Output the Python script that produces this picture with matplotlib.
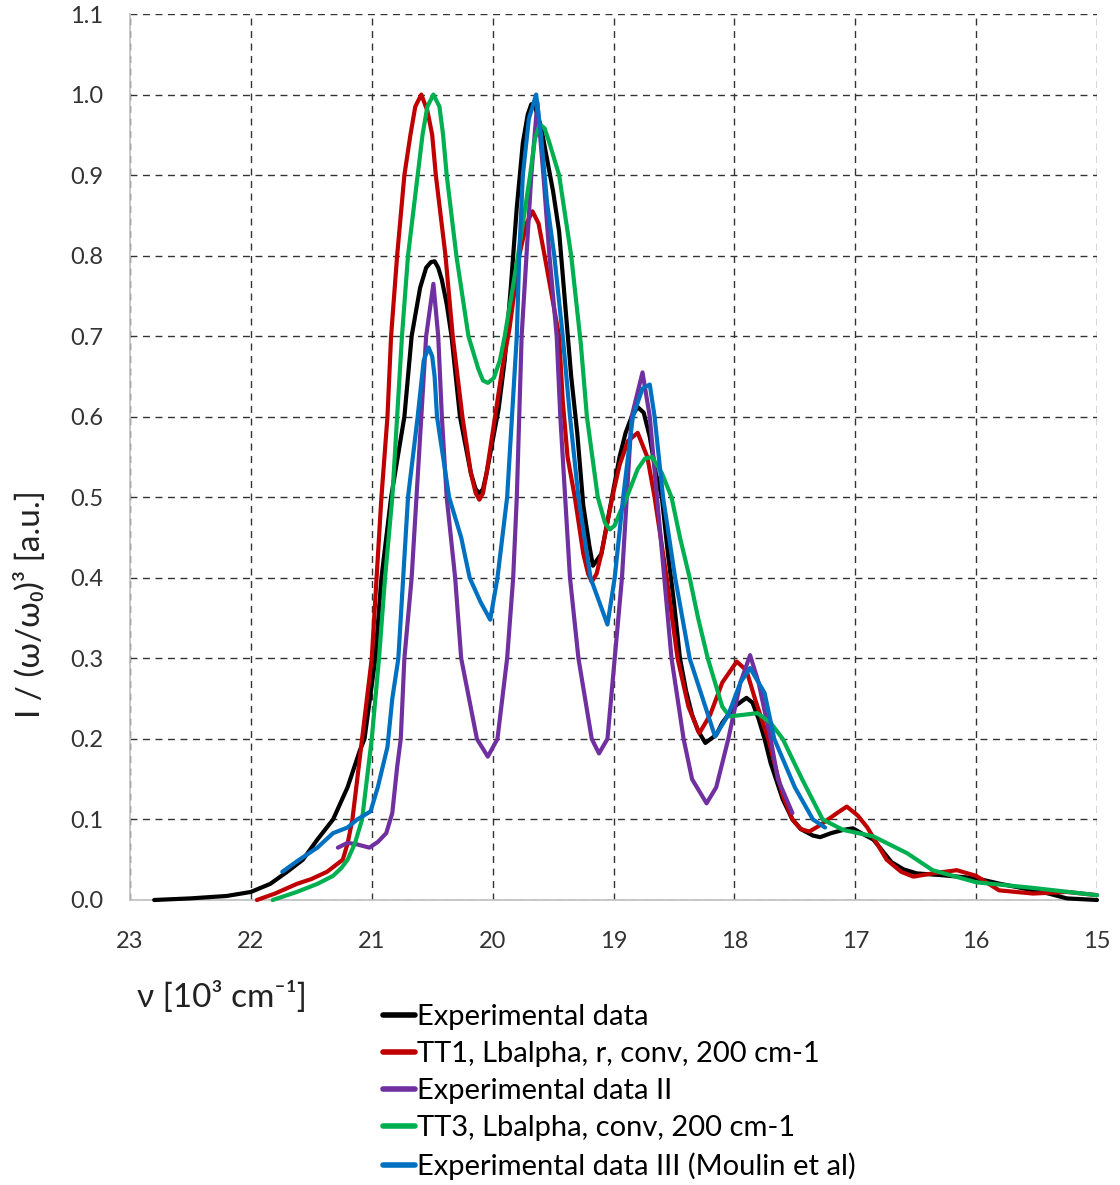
import matplotlib.pyplot as plt
from matplotlib.ticker import MultipleLocator, FormatStrFormatter

plt.rcParams['font.family'] = ['Lato', 'DejaVu Sans']

# Experimental data
x_exp = [22.8, 22.5, 22.2, 22.0, 21.84, 21.7, 21.57, 21.45, 21.32, 21.2, 21.1, 21.06, 20.97, 20.92,
         20.84, 20.73, 20.67, 20.6, 20.55, 20.51, 20.48, 20.45, 20.42, 20.38, 20.34, 20.27, 20.18,
         20.14, 20.11, 20.08, 20.05, 20.0, 19.95, 19.9, 19.85, 19.8, 19.75, 19.71, 19.68, 19.65,
         19.6, 19.55, 19.5, 19.45, 19.4, 19.35, 19.3, 19.25, 19.2, 19.17, 19.1, 19.05, 19.0, 18.95,
         18.9, 18.85, 18.8, 18.75, 18.7, 18.65, 18.6, 18.55, 18.5, 18.45, 18.4, 18.35, 18.3, 18.24,
         18.15, 18.1, 18.0, 17.9, 17.85, 17.8, 17.75, 17.7, 17.6, 17.52, 17.45, 17.35, 17.29, 17.2,
         17.1, 17.02, 16.95, 16.85, 16.7, 16.6, 16.49, 16.3, 16.0, 15.8, 15.66, 15.4, 15.25, 15.0]
y_exp = [0.0, 0.002, 0.005, 0.01, 0.02, 0.035, 0.05, 0.075, 0.1, 0.14, 0.185, 0.2, 0.3, 0.4,
         0.5, 0.6, 0.7, 0.76, 0.785, 0.792, 0.793, 0.785, 0.77, 0.74, 0.7, 0.6, 0.53,
         0.51, 0.505, 0.51, 0.53, 0.57, 0.61, 0.67, 0.76, 0.86, 0.94, 0.975, 0.988, 0.985,
         0.96, 0.92, 0.88, 0.83, 0.74, 0.65, 0.58, 0.49, 0.44, 0.415, 0.43, 0.47, 0.51, 0.55,
         0.58, 0.6, 0.612, 0.605, 0.575, 0.53, 0.5, 0.43, 0.37, 0.3, 0.26, 0.23, 0.21, 0.195,
         0.205, 0.22, 0.24, 0.251, 0.245, 0.225, 0.2, 0.17, 0.125, 0.1, 0.088, 0.08, 0.078, 0.083,
         0.087, 0.089, 0.083, 0.075, 0.047, 0.038, 0.033, 0.031, 0.027, 0.02, 0.016, 0.008, 0.002, 0.0]

# TT1, Lbalpha, r, conv, 200 cm-1
x_tt1 = [21.95, 21.8, 21.62, 21.5, 21.37, 21.24, 21.2, 21.16, 21.12, 21.08, 21.0, 20.96, 20.92,
         20.87, 20.84, 20.79, 20.73, 20.68, 20.64, 20.59, 20.54, 20.5, 20.47, 20.39, 20.33, 20.25,
         20.18, 20.14, 20.11, 20.08, 20.05, 19.98, 19.92, 19.86, 19.78, 19.72, 19.67, 19.62, 19.57,
         19.51, 19.45, 19.42, 19.38, 19.32, 19.25, 19.21, 19.18, 19.14, 19.1, 19.01, 18.95, 18.88,
         18.8, 18.72, 18.66, 18.56, 18.47, 18.38, 18.29, 18.2, 18.1, 17.98, 17.9, 17.83, 17.72,
         17.6, 17.52, 17.45, 17.38, 17.3, 17.15, 17.07, 16.98, 16.9, 16.74, 16.62, 16.52, 16.36,
         16.16, 16.0, 15.81, 15.53, 15.25, 15.0]
y_tt1 = [0.0, 0.008, 0.02, 0.026, 0.035, 0.05, 0.07, 0.1, 0.15, 0.2, 0.3, 0.4, 0.5,
         0.6, 0.7, 0.8, 0.9, 0.95, 0.985, 1.0, 0.98, 0.95, 0.9, 0.8, 0.7, 0.6,
         0.53, 0.505, 0.497, 0.505, 0.53, 0.6, 0.66, 0.71, 0.8, 0.84, 0.855, 0.84, 0.8,
         0.75, 0.7, 0.62, 0.55, 0.5, 0.43, 0.405, 0.395, 0.405, 0.43, 0.5, 0.54, 0.57,
         0.58, 0.55, 0.5, 0.4, 0.3, 0.24, 0.207, 0.23, 0.27, 0.296, 0.285, 0.25, 0.2,
         0.13, 0.1, 0.088, 0.085, 0.092, 0.108, 0.116, 0.105, 0.09, 0.05, 0.035, 0.029, 0.033,
         0.037, 0.03, 0.012, 0.008, 0.01, 0.006]

# Experimental data II
x_exp2 = [21.28, 21.2, 21.12, 21.02, 20.95, 20.88, 20.83, 20.79, 20.76, 20.73, 20.67, 20.63, 20.59,
          20.55, 20.49, 20.45, 20.42, 20.38, 20.31, 20.26, 20.13, 20.04, 19.96, 19.88, 19.83, 19.8,
          19.78, 19.76, 19.72, 19.68, 19.63, 19.58, 19.53, 19.47, 19.44, 19.4, 19.36, 19.29, 19.18,
          19.12, 19.05, 18.99, 18.93, 18.89, 18.85, 18.76, 18.7, 18.64, 18.58, 18.52, 18.42, 18.35,
          18.23, 18.15, 18.05, 17.95, 17.87, 17.8, 17.7, 17.64, 17.52]
y_exp2 = [0.065, 0.071, 0.069, 0.065, 0.072, 0.083, 0.108, 0.165, 0.2, 0.3, 0.4, 0.5, 0.6,
          0.7, 0.765, 0.7, 0.6, 0.5, 0.4, 0.3, 0.2, 0.178, 0.2, 0.3, 0.4, 0.5,
          0.6, 0.7, 0.8, 0.9, 0.99, 0.9, 0.8, 0.7, 0.6, 0.5, 0.4, 0.3, 0.2,
          0.182, 0.2, 0.3, 0.4, 0.5, 0.6, 0.655, 0.6, 0.5, 0.4, 0.3, 0.2, 0.15,
          0.12, 0.14, 0.2, 0.27, 0.304, 0.27, 0.2, 0.15, 0.108]

# TT3, Lbalpha, conv, 200 cm-1
x_tt3 = [21.82, 21.62, 21.45, 21.32, 21.25, 21.2, 21.14, 21.08, 21.04, 21.0, 20.94, 20.89, 20.83,
         20.79, 20.75, 20.7, 20.62, 20.58, 20.54, 20.49, 20.44, 20.41, 20.38, 20.3, 20.2, 20.12,
         20.08, 20.04, 19.99, 19.94, 19.9, 19.79, 19.69, 19.65, 19.61, 19.57, 19.53, 19.45, 19.35,
         19.27, 19.22, 19.13, 19.07, 19.03, 18.99, 18.95, 18.89, 18.8, 18.74, 18.68, 18.6, 18.52,
         18.45, 18.37, 18.3, 18.22, 18.1, 18.04, 17.92, 17.81, 17.7, 17.6, 17.44, 17.27, 17.1,
         16.85, 16.57, 16.36, 16.0, 15.53, 15.0]
y_tt3 = [0.0, 0.01, 0.02, 0.03, 0.04, 0.05, 0.07, 0.1, 0.15, 0.2, 0.3, 0.4, 0.5,
         0.6, 0.7, 0.8, 0.9, 0.95, 0.985, 1.0, 0.985, 0.95, 0.9, 0.8, 0.7, 0.66,
         0.645, 0.642, 0.648, 0.67, 0.7, 0.8, 0.9, 0.945, 0.963, 0.958, 0.94, 0.9, 0.8,
         0.69, 0.6, 0.5, 0.468, 0.46, 0.465, 0.48, 0.5, 0.535, 0.548, 0.55, 0.53, 0.5,
         0.45, 0.4, 0.35, 0.3, 0.24, 0.228, 0.23, 0.232, 0.22, 0.2, 0.15, 0.1, 0.087,
         0.079, 0.058, 0.037, 0.022, 0.015, 0.006]

# Experimental data III (Moulin et al)
x_exp3 = [21.74, 21.6, 21.45, 21.32, 21.2, 21.12, 21.01, 20.95, 20.87, 20.83, 20.78, 20.74, 20.7,
          20.62, 20.57, 20.53, 20.5, 20.48, 20.46, 20.36, 20.26, 20.19, 20.1, 20.02, 19.96, 19.88,
          19.84, 19.8, 19.78, 19.75, 19.7, 19.64, 19.6, 19.55, 19.49, 19.42, 19.36, 19.29, 19.19,
          19.05, 18.99, 18.92, 18.84, 18.76, 18.7, 18.66, 18.59, 18.49, 18.37, 18.16, 18.05, 17.95,
          17.87, 17.8, 17.75, 17.67, 17.5, 17.35, 17.25]
y_exp3 = [0.035, 0.05, 0.065, 0.083, 0.09, 0.1, 0.11, 0.14, 0.19, 0.25, 0.3, 0.4, 0.5,
          0.6, 0.67, 0.686, 0.675, 0.65, 0.6, 0.5, 0.45, 0.4, 0.37, 0.348, 0.4, 0.5,
          0.6, 0.7, 0.8, 0.9, 0.97, 1.0, 0.95, 0.866, 0.8, 0.7, 0.6, 0.5, 0.4,
          0.342, 0.4, 0.5, 0.6, 0.635, 0.64, 0.6, 0.5, 0.4, 0.3, 0.203, 0.23, 0.27,
          0.288, 0.27, 0.257, 0.2, 0.14, 0.1, 0.09]

labels = ['Experimental data', 'TT1, Lbalpha, r, conv, 200 cm-1', 'Experimental data II',
          'TT3, Lbalpha, conv, 200 cm-1', 'Experimental data III (Moulin et al)']
colors = ['#000000', '#C00000', '#7030A0', '#00B050', '#0070C0']
series = [(x_exp, y_exp), (x_tt1, y_tt1), (x_exp2, y_exp2), (x_tt3, y_tt3), (x_exp3, y_exp3)]

fig = plt.figure(figsize=(11.2, 11.85), dpi=100)
ax = fig.add_axes([130/1120, 1 - 900/1185, 967/1120, 886/1185])

for (xs, ys), c, lab in zip(series, colors, labels):
    ax.plot(xs, ys, color=c, lw=3, label=lab, zorder=3, clip_on=False,
            solid_joinstyle='round', solid_capstyle='round')

ax.set_xlim(23, 15)
ax.set_ylim(0, 1.1)
ax.xaxis.set_major_locator(MultipleLocator(1))
ax.yaxis.set_major_locator(MultipleLocator(0.1))
ax.xaxis.set_major_formatter(FormatStrFormatter('%d'))
ax.yaxis.set_major_formatter(FormatStrFormatter('%.1f'))
ax.set_axisbelow(True)
ax.grid(True, color='#333333', lw=1.0, linestyle=(0, (5, 4)))
ax.tick_params(length=0, labelsize=17, colors='#333333')
ax.tick_params(axis='x', pad=22)
ax.tick_params(axis='y', pad=19)
for s in ['top', 'right']:
    ax.spines[s].set_visible(False)
for s in ['left', 'bottom']:
    ax.spines[s].set_color('#BFBFBF')
    ax.spines[s].set_linewidth(1.2)

fig.text(30/1120, 1 - 604/1185, 'I / (ω/ω₀)³ [a.u.]', rotation=90, ha='center', va='center',
         fontsize=24, color='#222222')
fig.text(137/1120, 1 - 997/1185, 'ν [10³ cm⁻¹]', ha='left', va='center', fontsize=24,
         color='#222222')

leg = fig.legend(loc='upper left', bbox_to_anchor=(383/1120, 1 - 1004/1185), frameon=False,
                 fontsize=21, handlelength=1.08, handletextpad=0.08, labelspacing=0.38,
                 borderpad=0, borderaxespad=0)
for h in leg.get_lines():
    h.set_linewidth(4)

fig.savefig('out.png', dpi=100)
